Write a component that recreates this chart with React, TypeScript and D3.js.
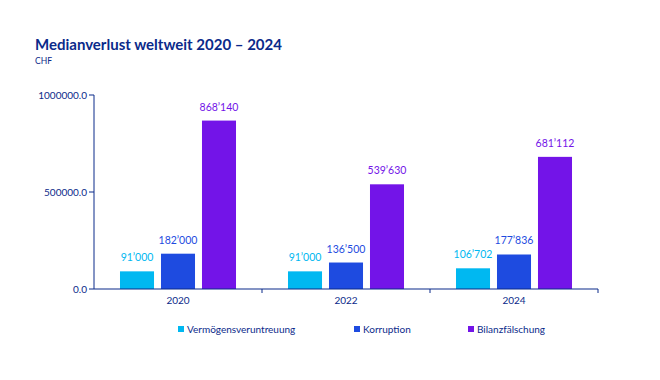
import React from "react";
import * as d3 from "d3";

const years = ["2020", "2022", "2024"];
const seriesNames = ["Vermögensveruntreuung", "Korruption", "Bilanzfälschung"];
const vermoegen = [91000, 91000, 106702];
const korruption = [182000, 136500, 177836];
const bilanz = [868140, 539630, 681112];
const yTicks = [0, 500000, 1000000];
const colors = ["#00B8F1", "#1E4BE0", "#7314E8"];

const W = 660;
const H = 380;
const FONT = "Lato, 'Open Sans', sans-serif";
const NAVY = "#0B2A8A";

function fmt(v: number) {
  return d3.format(",")(v).replace(/,/g, "’");
}

export default function App() {
  const left = 94, right = 598, top = 95, bottom = 289;
  const x = d3.scaleBand<string>().domain(years).range([left, right]).padding(0);
  const inner = d3
    .scaleBand<number>()
    .domain([0, 1, 2])
    .range([0, x.bandwidth()])
    .paddingInner(0.17)
    .paddingOuter(0.634);
  const y = d3.scaleLinear().domain([0, 1000000]).range([bottom, top]);
  const data = [vermoegen, korruption, bilanz];
  const legendX = [178, 354, 468];

  return (
    <svg width={W} height={H} style={{ position: "absolute", left: 0, top: 0, background: "#fff" }}>
      <text x={35} y={50} fontFamily={FONT} fontWeight={700} fontSize={15} fill={NAVY}>
        Medianverlust weltweit 2020 – 2024
      </text>
      <text x={35} y={64} fontFamily={FONT} fontSize={8.5} fill={NAVY}>
        CHF
      </text>
      {/* y axis */}
      <line x1={left} x2={left} y1={top} y2={bottom} stroke={NAVY} strokeWidth={1} />
      {yTicks.map((t) => (
        <g key={t}>
          <line x1={left - 5} x2={left} y1={y(t)} y2={y(t)} stroke={NAVY} />
          <text x={left - 7} y={y(t) + 3.5} textAnchor="end" fontFamily={FONT} fontSize={10} fill={NAVY}>
            {d3.format(".1f")(t)}
          </text>
        </g>
      ))}
      {/* bars */}
      {data.map((vals, si) =>
        years.map((yr, i) => {
          const bx = (x(yr) as number) + (inner(si) as number);
          const by = y(vals[i]);
          return (
            <g key={si + "-" + yr}>
              <rect x={bx} y={by} width={inner.bandwidth()} height={bottom - by} fill={colors[si]} />
              <text
                x={bx + inner.bandwidth() / 2}
                y={by - 10}
                textAnchor="middle"
                fontFamily={FONT}
                fontSize={10.5}
                fill={colors[si]}
              >
                {fmt(vals[i])}
              </text>
            </g>
          );
        })
      )}
      {/* x axis */}
      <line x1={left} x2={right} y1={bottom} y2={bottom} stroke={NAVY} strokeWidth={1.2} />
      {years.map((yr, i) => (
        <g key={yr}>
          {i > 0 && (
            <line x1={x(yr)} x2={x(yr)} y1={bottom} y2={bottom + 4} stroke={NAVY} />
          )}
          <text
            x={(x(yr) as number) + x.bandwidth() / 2}
            y={bottom + 14.5}
            textAnchor="middle"
            fontFamily={FONT}
            fontSize={10}
            fill={NAVY}
          >
            {yr}
          </text>
        </g>
      ))}
      <line x1={right} x2={right} y1={bottom} y2={bottom + 4} stroke={NAVY} />
      {/* legend */}
      {seriesNames.map((n, i) => (
        <g key={n}>
          <rect x={legendX[i]} y={326} width={6} height={6} fill={colors[i]} />
          <text x={legendX[i] + 9} y={333} fontFamily={FONT} fontSize={10} fill={NAVY}>
            {n}
          </text>
        </g>
      ))}
    </svg>
  );
}
